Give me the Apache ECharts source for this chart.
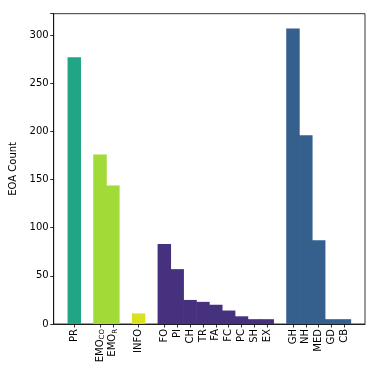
<!DOCTYPE html>
<html>
<head>
<meta charset="utf-8">
<script src="https://cdn.jsdelivr.net/npm/echarts@6/dist/echarts.min.js"></script>
<style>
  html, body { margin: 0; padding: 0; background: #fff; }
  #chart { width: 379px; height: 379px; }
</style>
</head>
<body>
<div id="chart"></div>
<script>
// slots on the x axis, '' = empty gap between groups
const categories = ['PR', '', 'EMO_CO', 'EMO_R', '', 'INFO', '',
  'FO', 'PI', 'CH', 'TR', 'FA', 'FC', 'PC', 'SH', 'EX', '',
  'GH', 'NH', 'MED', 'GD', 'CB']
const counts = [277, null, 176, 144, null, 11, null,
  83, 57, 25, 23, 20, 14, 8, 5, 5, null,
  307, 196, 87, 5, 5]
const groupOf = [0, null, 1, 1, null, 2, null,
  3, 3, 3, 3, 3, 3, 3, 3, 3, null,
  4, 4, 4, 4, 4]
const yTicks = [0, 50, 100, 150, 200, 250, 300]

const palette = ['#21a585', '#a2da37', '#d9e21c', '#46317e', '#355f8d']

const slotIdx = []
const barData = []
categories.forEach((c, i) => {
  if (c === '') return
  slotIdx.push(i)
  barData.push({
    value: [i, counts[i]],
    itemStyle: { color: palette[groupOf[i]] }
  })
})

const gridLeft = 53.7, gridRight = 14
const xMin = -1.6, xMax = categories.length - 1 + 1.6
const slotPx = (379 - gridLeft - gridRight) / (xMax - xMin)

function labelOf(v) {
  const c = categories[Math.round(v)] || ''
  const m = c.match(/^(.*)_(.*)$/)
  if (m) return '{a|' + m[1] + '}{s|' + m[2] + '}'
  return '{a|' + c + '}'
}

const chart = echarts.init(document.getElementById('chart'))
chart.setOption({
  animation: false,
  grid: {
    left: gridLeft, right: gridRight, top: 13.7, bottom: 55,
    show: true, borderColor: '#000', borderWidth: 0.8
  },
  xAxis: {
    type: 'value',
    min: xMin,
    max: xMax,
    splitLine: { show: false },
    axisLine: { show: true, onZero: false, lineStyle: { color: '#000', width: 0.8 } },
    axisTick: {
      show: true, customValues: slotIdx, length: 3.5,
      lineStyle: { color: '#000', width: 0.8 }
    },
    axisLabel: {
      customValues: slotIdx,
      rotate: 90,
      margin: 5,
      formatter: labelOf,
      rich: {
        a: { fontFamily: 'DejaVu Sans', fontSize: 10, color: '#000' },
        s: { fontFamily: 'DejaVu Sans', fontSize: 7, color: '#000', padding: [5, 0, 0, 0] }
      }
    }
  },
  yAxis: {
    type: 'value',
    min: 0,
    max: 307 * 1.05,
    interval: 50,
    name: 'EOA Count',
    nameLocation: 'middle',
    nameGap: 24,
    nameTextStyle: { fontFamily: 'DejaVu Sans', fontSize: 10, color: '#000' },
    splitLine: { show: false },
    axisLine: { show: true, onZero: false, lineStyle: { color: '#000', width: 0.8 } },
    axisTick: { show: true, length: 3.5, lineStyle: { color: '#000', width: 0.8 } },
    axisLabel: {
      margin: 5,
      fontFamily: 'DejaVu Sans', fontSize: 10, color: '#000',
      customValues: yTicks
    }
  },
  series: [{
    type: 'bar',
    data: barData,
    barWidth: slotPx + 0.6
  }]
})
</script>
</body>
</html>
